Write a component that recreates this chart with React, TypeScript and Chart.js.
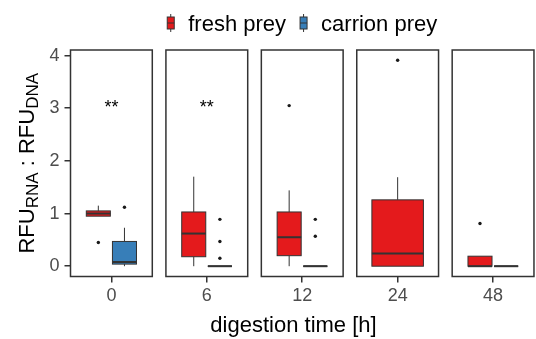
import React, { useEffect, useRef } from 'react';
import { Chart, registerables } from 'chart.js';

Chart.register(...registerables);

// ---------- data ----------
const timeLabels = ['0', '6', '12', '24', '48'];
const seriesNames = ['fresh prey', 'carrion prey'];
const seriesColors = ['#E41A1C', '#377EB8'];

// fresh prey box statistics per digestion time
const freshMin = [0.95, 0.0, 0.0, 0.0, 0.0];
const freshQ1 = [0.95, 0.18, 0.2, 0.0, 0.0];
const freshMedian = [1.0, 0.62, 0.55, 0.24, 0.0];
const freshQ3 = [1.05, 1.03, 1.03, 1.26, 0.19];
const freshMax = [1.15, 1.7, 1.44, 1.69, 0.19];
const freshOutliers: number[][] = [[0.45], [], [3.05], [3.91], [0.81]];

// carrion prey box statistics per digestion time (null = no carrion group)
const carrionMin = [0.0, 0.0, 0.0, null, 0.0];
const carrionQ1 = [0.04, 0.0, 0.0, null, 0.0];
const carrionMedian = [0.08, 0.0, 0.0, null, 0.0];
const carrionQ3 = [0.47, 0.0, 0.0, null, 0.0];
const carrionMax = [0.73, 0.0, 0.0, null, 0.0];
const carrionOutliers: number[][] = [[1.12], [0.89, 0.47, 0.15], [0.89, 0.57], [], []];

const significance = ['**', '**', '', '', ''];
const significanceY = 3.0;
const yTicks = [0, 1, 2, 3, 4];
const yMin = -0.1955;
const yMax = 4.1055;

// ---------- layout constants ----------
const FONT = "'Liberation Sans', Arial, Helvetica, sans-serif";
const PANEL_HALF = 0.4286;
const DODGE = 0.137;
const BOX_HALF = 0.126;
const SINGLE_HALF = 0.27;
const X_MIN = -PANEL_HALF;
const X_MAX = 4.408;
const DARK = '#333333';

type Stats = [number, number, number, number, number];

function groupCenter(i: number, series: number): { center: number; half: number } {
  const hasCarrion = carrionQ1[i] !== null;
  if (!hasCarrion) return { center: i, half: SINGLE_HALF };
  return { center: i + (series === 0 ? -DODGE : DODGE), half: BOX_HALF };
}

function outlierPoints(series: number) {
  const src = series === 0 ? freshOutliers : carrionOutliers;
  const pts: { x: number; y: number }[] = [];
  src.forEach((vals, i) => {
    const { center } = groupCenter(i, series);
    vals.forEach((v) => pts.push({ x: center, y: v }));
  });
  return pts;
}

function drawBox(ctx: CanvasRenderingContext2D, xs: any, ys: any, center: number, half: number, s: Stats, color: string) {
  const [mn, q1, md, q3, mx] = s;
  const xl = xs.getPixelForValue(center - half);
  const xr = xs.getPixelForValue(center + half);
  const xc = xs.getPixelForValue(center);
  const py = (v: number) => ys.getPixelForValue(v);
  ctx.save();
  ctx.strokeStyle = DARK;
  ctx.lineWidth = 1;
  ctx.beginPath();
  ctx.moveTo(xc, py(q3));
  ctx.lineTo(xc, py(mx));
  ctx.moveTo(xc, py(q1));
  ctx.lineTo(xc, py(mn));
  ctx.stroke();
  ctx.fillStyle = color;
  const top = py(q3);
  const bot = py(q1);
  ctx.fillRect(xl, top, xr - xl, bot - top);
  ctx.strokeRect(xl, top, xr - xl, bot - top);
  ctx.lineWidth = 2;
  ctx.beginPath();
  ctx.moveTo(xl, py(md));
  ctx.lineTo(xr, py(md));
  ctx.stroke();
  ctx.restore();
}

const boxPlugin = {
  id: 'boxes',
  beforeDatasetsDraw(chart: any) {
    const ctx = chart.ctx as CanvasRenderingContext2D;
    const xs = chart.scales.x;
    const ys = chart.scales.y;
    timeLabels.forEach((_, i) => {
      const f = groupCenter(i, 0);
      drawBox(ctx, xs, ys, f.center, f.half,
        [freshMin[i], freshQ1[i], freshMedian[i], freshQ3[i], freshMax[i]], seriesColors[0]);
      if (carrionQ1[i] !== null) {
        const c = groupCenter(i, 1);
        drawBox(ctx, xs, ys, c.center, c.half,
          [carrionMin[i] as number, carrionQ1[i] as number, carrionMedian[i] as number,
           carrionQ3[i] as number, carrionMax[i] as number], seriesColors[1]);
      }
    });
  },
  afterDatasetsDraw(chart: any) {
    const ctx = chart.ctx as CanvasRenderingContext2D;
    const xs = chart.scales.x;
    const ys = chart.scales.y;
    const { top, bottom } = chart.chartArea;
    ctx.save();
    // panel borders
    ctx.strokeStyle = DARK;
    ctx.lineWidth = 1.5;
    timeLabels.forEach((_, i) => {
      const l = xs.getPixelForValue(i - PANEL_HALF);
      const r = xs.getPixelForValue(i + PANEL_HALF);
      ctx.strokeRect(l, top, r - l, bottom - top);
    });
    // significance labels
    ctx.fillStyle = '#000';
    ctx.font = `18px ${FONT}`;
    ctx.textAlign = 'center';
    ctx.textBaseline = 'middle';
    significance.forEach((t, i) => {
      if (t) ctx.fillText(t, xs.getPixelForValue(i), ys.getPixelForValue(significanceY));
    });
    ctx.restore();
  },
  afterDraw(chart: any) {
    const ctx = chart.ctx as CanvasRenderingContext2D;
    const xs = chart.scales.x;
    ctx.save();
    // legend
    ctx.font = `22px ${FONT}`;
    ctx.textBaseline = 'alphabetic';
    ctx.textAlign = 'left';
    const glyphW = 7;
    const gap = 14;
    const spacing = 14;
    const widths = seriesNames.map((n) => ctx.measureText(n).width);
    const total = widths.reduce((a, w) => a + glyphW + gap + w, 0) + spacing;
    const centerX = (xs.getPixelForValue(X_MIN) + xs.getPixelForValue(4 + PANEL_HALF)) / 2;
    let x = centerX - total / 2;
    const midY = 23;
    seriesNames.forEach((name, k) => {
      ctx.strokeStyle = DARK;
      ctx.lineWidth = 1;
      ctx.beginPath();
      ctx.moveTo(x + glyphW / 2, midY - 9);
      ctx.lineTo(x + glyphW / 2, midY + 9);
      ctx.stroke();
      ctx.fillStyle = seriesColors[k];
      ctx.fillRect(x, midY - 6, glyphW, 12);
      ctx.strokeRect(x, midY - 6, glyphW, 12);
      ctx.beginPath();
      ctx.moveTo(x, midY);
      ctx.lineTo(x + glyphW, midY);
      ctx.stroke();
      x += glyphW + gap;
      ctx.fillStyle = '#000';
      ctx.fillText(name, x, midY + 8);
      x += widths[k] + spacing;
    });

    // x axis title
    ctx.textAlign = 'center';
    ctx.fillText('digestion time [h]', 293.5, 332);

    // y axis title with subscripts
    const parts: { t: string; sub: boolean }[] = [
      { t: 'RFU', sub: false },
      { t: 'RNA', sub: true },
      { t: ' : ', sub: false },
      { t: 'RFU', sub: false },
      { t: 'DNA', sub: true },
    ];
    const mainF = `22px ${FONT}`;
    const subF = `17px ${FONT}`;
    const ws = parts.map((p) => {
      ctx.font = p.sub ? subF : mainF;
      return ctx.measureText(p.t).width;
    });
    const W = ws.reduce((a, b) => a + b, 0);
    const cy = (chart.chartArea.top + chart.chartArea.bottom) / 2;
    ctx.translate(34, cy);
    ctx.rotate(-Math.PI / 2);
    ctx.textAlign = 'left';
    ctx.fillStyle = '#000';
    let lx = -W / 2;
    parts.forEach((p, k) => {
      ctx.font = p.sub ? subF : mainF;
      ctx.fillText(p.t, lx, p.sub ? 4 : 0);
      lx += ws[k];
    });
    ctx.restore();
  },
};

export default function App() {
  const ref = useRef<HTMLCanvasElement>(null);
  useEffect(() => {
    if (!ref.current) return;
    const chart = new Chart(ref.current, {
      type: 'scatter',
      data: {
        datasets: seriesNames.map((name, k) => ({
          label: name,
          data: outlierPoints(k),
          pointRadius: 1.7,
          pointBackgroundColor: '#1a1a1a',
          pointBorderWidth: 0,
          showLine: false,
        })),
      },
      options: {
        animation: false,
        responsive: false,
        maintainAspectRatio: false,
        events: [],
        layout: { padding: { top: 50, left: 0, right: 0, bottom: 0 } },
        plugins: {
          legend: { display: false },
          tooltip: { enabled: false },
        },
        scales: {
          x: {
            type: 'linear',
            min: X_MIN,
            max: X_MAX,
            bounds: 'data',
            afterBuildTicks: (scale: any) => {
              scale.ticks = timeLabels.map((_, i) => ({ value: i }));
            },
            afterFit: (scale: any) => {
              scale.height = 62.5;
            },
            grid: { drawOnChartArea: false, drawTicks: true, tickLength: 6, color: DARK, lineWidth: 1.5 },
            border: { display: false },
            ticks: {
              autoSkip: false,
              maxRotation: 0,
              padding: 3,
              color: '#4D4D4D',
              font: { size: 18, family: FONT },
              callback: (v: any) => timeLabels[Math.round(Number(v))] ?? '',
            },
            title: { display: false },
          },
          y: {
            type: 'linear',
            min: yMin,
            max: yMax,
            bounds: 'data',
            afterBuildTicks: (scale: any) => {
              scale.ticks = yTicks.map((v) => ({ value: v }));
            },
            afterFit: (scale: any) => {
              scale.width = 70.5;
            },
            grid: { drawOnChartArea: false, drawTicks: true, tickLength: 6, color: DARK, lineWidth: 1.5 },
            border: { display: false },
            ticks: {
              padding: 5,
              color: '#4D4D4D',
              font: { size: 18, family: FONT },
              callback: (v: any) => String(v),
            },
          },
        },
      },
      plugins: [boxPlugin],
    } as any);
    return () => chart.destroy();
  }, []);
  return (
    <div style={{ position: 'fixed', left: 0, top: 0, width: 536, height: 339, background: '#fff', overflow: 'hidden' }}>
      <canvas ref={ref} width={536} height={339} style={{ display: 'block', width: 536, height: 339 }} />
    </div>
  );
}
